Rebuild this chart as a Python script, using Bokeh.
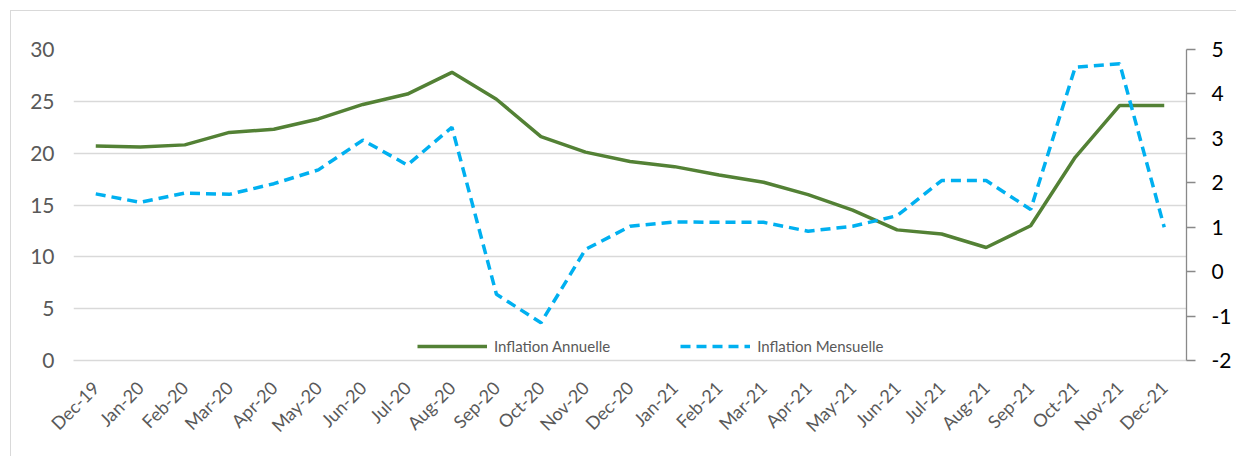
from bokeh.plotting import figure
from bokeh.models import (Range1d, FactorRange, LinearAxis, FixedTicker, Legend, LegendItem,
                          CustomJSTickFormatter, ColumnDataSource)
from bokeh.embed import file_html
from bokeh.resources import INLINE
import math

months = ["Dec-19", "Jan-20", "Feb-20", "Mar-20", "Apr-20", "May-20", "Jun-20", "Jul-20",
          "Aug-20", "Sep-20", "Oct-20", "Nov-20", "Dec-20", "Jan-21", "Feb-21", "Mar-21",
          "Apr-21", "May-21", "Jun-21", "Jul-21", "Aug-21", "Sep-21", "Oct-21", "Nov-21", "Dec-21"]
inflation_annuelle = [20.7, 20.6, 20.8, 22.0, 22.3, 23.3, 24.7, 25.7, 27.8, 25.2, 21.6, 20.1,
                      19.2, 18.7, 17.9, 17.2, 16.0, 14.5, 12.6, 12.2, 10.9, 13.0, 19.6, 24.6, 24.6]
inflation_mensuelle = [1.75, 1.56, 1.77, 1.74, 1.98, 2.29, 2.96, 2.40, 3.25, -0.51, -1.15, 0.50,
                       1.02, 1.12, 1.11, 1.11, 0.91, 1.02, 1.26, 2.05, 2.05, 1.40, 4.60, 4.68, 1.00]
left_ticks = [0, 5, 10, 15, 20, 25, 30]
right_ticks = [-2, -1, 0, 1, 2, 3, 4, 5]

FONT = "Lato"
GREEN = "#538135"
BLUE = "#00B0F0"

src = ColumnDataSource(dict(m=months, a=inflation_annuelle, b=inflation_mensuelle))

p = figure(x_range=FactorRange(*months, range_padding=0), y_range=Range1d(0, 30),
           frame_width=1113, frame_height=311,
           output_backend="svg", toolbar_location=None,
           min_border_left=62, min_border_top=38, min_border_right=50, min_border_bottom=96)
p.outline_line_color = None
p.styles = {"margin-left": "10px", "margin-top": "10px",
            "border-top": "1px solid #D9D9D9", "border-left": "1px solid #D9D9D9"}

p.extra_y_ranges = {"m": Range1d(-2, 5)}

p.xgrid.grid_line_color = None
p.ygrid.grid_line_color = "#D9D9D9"
p.ygrid.grid_line_width = 1.3
p.ygrid.ticker = FixedTicker(ticks=left_ticks)

ya = p.yaxis[0]
ya.ticker = FixedTicker(ticks=left_ticks)
ya.axis_line_color = None
ya.major_tick_line_color = None
ya.major_tick_out = 0
ya.major_tick_in = 0
ya.minor_tick_line_color = None
ya.major_label_text_font = FONT
ya.major_label_text_font_size = "21px"
ya.major_label_text_color = "#595959"
ya.major_label_standoff = 19

xa = p.xaxis[0]
xa.axis_line_color = "#D9D9D9"
xa.axis_line_width = 1.3
xa.major_tick_line_color = None
xa.major_tick_out = 0
xa.major_tick_in = 0
xa.minor_tick_line_color = None
xa.major_label_orientation = math.pi / 4
xa.major_label_text_font = FONT
xa.major_label_text_font_size = "18px"
xa.major_label_text_color = "#595959"
xa.major_label_standoff = 24

ra = LinearAxis(y_range_name="m", ticker=FixedTicker(ticks=right_ticks),
                formatter=CustomJSTickFormatter(code="return tick.toString();"))
ra.axis_line_color = "#898989"
ra.axis_line_width = 1.3
ra.major_tick_line_color = "#898989"
ra.major_tick_line_width = 1.3
ra.major_tick_in = 0
ra.major_tick_out = 9
ra.minor_tick_line_color = None
ra.major_label_text_font = FONT
ra.major_label_text_font_size = "21px"
ra.major_label_text_color = "#000000"
ra.major_label_standoff = 16
p.add_layout(ra, "right")

l1 = p.line("m", "a", source=src, line_color=GREEN, line_width=3.5)
l2 = p.line("m", "b", source=src, y_range_name="m", line_color=BLUE, line_width=3.5,
            line_dash="10 6")

legend = Legend(items=[LegendItem(label="Inflation Annuelle", renderers=[l1]),
                       LegendItem(label="Inflation Mensuelle", renderers=[l2])],
                orientation="horizontal", location=(344, 4))
legend.label_text_font = FONT
legend.label_text_font_size = "15px"
legend.label_text_color = "#595959"
legend.glyph_width = 70
legend.glyph_height = 20
legend.label_standoff = 7
legend.spacing = 70
legend.padding = 0
legend.margin = 0
legend.border_line_color = None
legend.background_fill_alpha = 0
p.add_layout(legend, "center")

open("out.html", "w").write(file_html(p, INLINE))
